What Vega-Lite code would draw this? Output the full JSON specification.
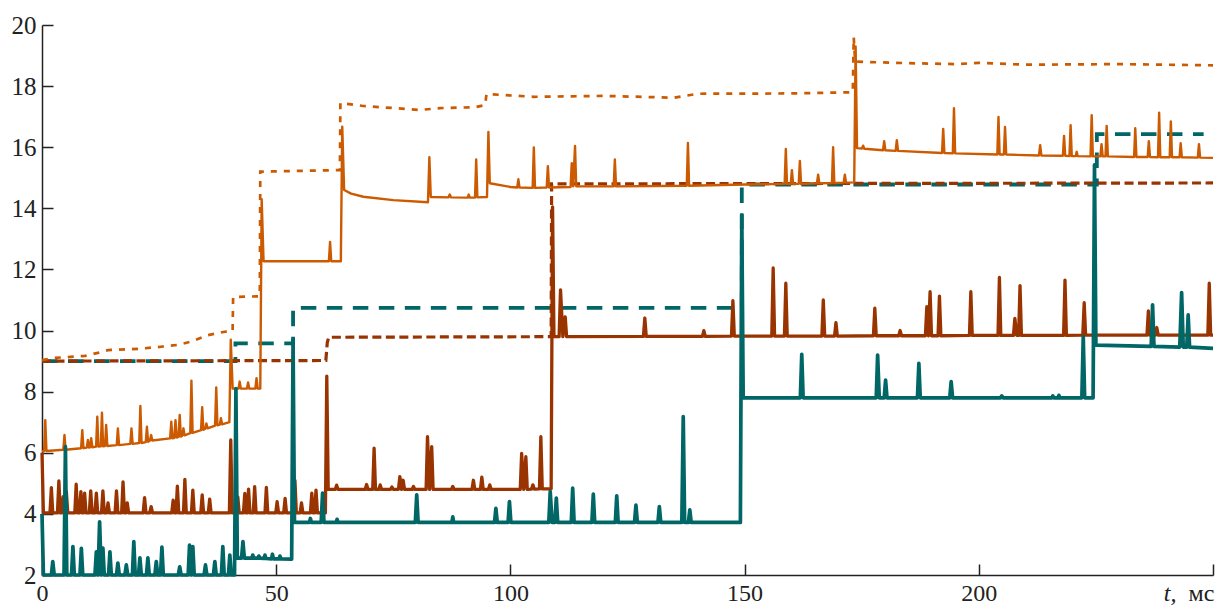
{
"$schema": "https://vega.github.io/schema/vega-lite/v6.json",
"width": 1171, "height": 550,
"padding": {"left": 6, "top": 13, "right": 8, "bottom": 0},
"autosize": {"type": "pad"},
"background": "white",
"config": {"view": {"stroke": null}},
"datasets": {
"teaD": [{"t":0,"v":9.0},{"t":41.3,"v":9.0},{"t":41.3,"v":9.58},{"t":53.6,"v":9.58},{"t":53.6,"v":10.74},{"t":149.4,"v":10.74},{"t":149.4,"v":14.78},{"t":225.2,"v":14.78},{"t":225.2,"v":16.43},{"t":248,"v":16.43}],
"broD": [{"t":0,"v":9.0},{"t":60.6,"v":9.02},{"t":60.9,"v":9.6},{"t":61.2,"v":9.78},{"t":108.7,"v":9.8},{"t":108.8,"v":14.8},{"t":250,"v":14.83}],
"oraD": [{"t":0,"v":9.03},{"t":2.3,"v":9.1},{"t":9.2,"v":9.17},{"t":11.9,"v":9.27},{"t":14.1,"v":9.36},{"t":20.5,"v":9.4},{"t":25.4,"v":9.47},{"t":29,"v":9.53},{"t":31.9,"v":9.64},{"t":35.4,"v":9.85},{"t":39,"v":9.96},{"t":40.7,"v":9.98},{"t":40.8,"v":11.1},{"t":46.5,"v":11.12},{"t":46.6,"v":15.2},{"t":63.6,"v":15.25},{"t":63.7,"v":17.45},{"t":68.6,"v":17.35},{"t":80.7,"v":17.22},{"t":85,"v":17.28},{"t":92.4,"v":17.31},{"t":94.6,"v":17.38},{"t":94.9,"v":17.74},{"t":105,"v":17.65},{"t":120,"v":17.68},{"t":135,"v":17.62},{"t":140,"v":17.75},{"t":160,"v":17.76},{"t":173.1,"v":17.8},{"t":173.3,"v":19.6},{"t":173.6,"v":18.8},{"t":185,"v":18.75},{"t":195,"v":18.72},{"t":200,"v":18.76},{"t":210,"v":18.7},{"t":230,"v":18.72},{"t":250,"v":18.68}],
"ora": [{"t":0,"v":6.05},
{"t":0.45,"v":6.06},{"t":0.7,"v":7.07},{"t":0.95,"v":6.06},
{"t":4.55,"v":6.1},{"t":4.8,"v":6.58},{"t":5.05,"v":6.1},
{"t":8.35,"v":6.15},{"t":8.6,"v":6.74},{"t":8.85,"v":6.15},
{"t":9.55,"v":6.17},{"t":9.8,"v":6.42},{"t":10.05,"v":6.17},
{"t":10.25,"v":6.18},{"t":10.5,"v":6.48},{"t":10.75,"v":6.18},
{"t":11.55,"v":6.2},{"t":11.8,"v":7.18},{"t":12.05,"v":6.2},
{"t":12.55,"v":6.21},{"t":12.8,"v":7.31},{"t":13.05,"v":6.21},
{"t":13.45,"v":6.22},{"t":13.7,"v":6.91},{"t":13.95,"v":6.22},
{"t":15.95,"v":6.25},{"t":16.2,"v":6.8},{"t":16.45,"v":6.25},
{"t":18.85,"v":6.29},{"t":19.1,"v":6.8},{"t":19.35,"v":6.29},
{"t":20.75,"v":6.32},{"t":21.0,"v":7.53},{"t":21.25,"v":6.32},
{"t":22.15,"v":6.35},{"t":22.4,"v":6.85},{"t":22.65,"v":6.36},
{"t":23.05,"v":6.4},{"t":23.3,"v":6.58},{"t":23.55,"v":6.4},
{"t":27.35,"v":6.47},{"t":27.6,"v":7.02},{"t":27.85,"v":6.47},
{"t":28.25,"v":6.49},{"t":28.5,"v":7.07},{"t":28.75,"v":6.5},
{"t":29.15,"v":6.52},{"t":29.4,"v":7.24},{"t":29.65,"v":6.53},
{"t":29.95,"v":6.56},{"t":30.2,"v":6.8},{"t":30.45,"v":6.57},
{"t":31.65,"v":6.64},{"t":31.9,"v":8.36},{"t":32.15,"v":6.65},
{"t":33.95,"v":6.74},{"t":34.2,"v":7.49},{"t":34.45,"v":6.75},
{"t":34.85,"v":6.79},{"t":35.1,"v":6.96},{"t":35.35,"v":6.8},
{"t":36.95,"v":6.89},{"t":37.2,"v":8.14},{"t":37.45,"v":6.9},
{"t":37.95,"v":6.92},{"t":38.2,"v":7.13},{"t":38.45,"v":6.93},
{"t":40.0,"v":7.0},{"t":40.3,"v":9.7},{"t":40.7,"v":8.1},
{"t":41.95,"v":8.1},{"t":42.2,"v":8.33},{"t":42.45,"v":8.1},
{"t":43.75,"v":8.1},{"t":44.0,"v":8.3},{"t":44.25,"v":8.1},
{"t":45.55,"v":8.1},{"t":45.8,"v":8.44},{"t":46.05,"v":8.1},
{"t":46.6,"v":8.1},{"t":46.9,"v":14.3},{"t":47.3,"v":12.27},
{"t":61.25,"v":12.27},{"t":61.5,"v":12.9},{"t":61.75,"v":12.27},
{"t":63.8,"v":12.27},{"t":64.1,"v":16.67},{"t":64.5,"v":14.6},
{"t":66,"v":14.48},{"t":68.6,"v":14.38},{"t":75,"v":14.27},
{"t":82.4,"v":14.2},{"t":82.7,"v":15.67},{"t":83.0,"v":14.37},
{"t":86.8,"v":14.36},{"t":87.05,"v":14.45},{"t":87.3,"v":14.36},
{"t":90.9,"v":14.35},{"t":91.1,"v":14.45},{"t":91.35,"v":14.35},
{"t":92.45,"v":14.35},{"t":92.7,"v":15.6},{"t":92.95,"v":14.36},
{"t":95.0,"v":14.37},{"t":95.3,"v":16.5},{"t":95.6,"v":14.82},
{"t":100,"v":14.7},
{"t":101.45,"v":14.68},{"t":101.7,"v":14.95},{"t":101.95,"v":14.68},
{"t":104.75,"v":14.67},{"t":105,"v":15.99},{"t":105.25,"v":14.67},
{"t":107.75,"v":14.68},{"t":108,"v":15.38},{"t":108.25,"v":14.68},
{"t":112.85,"v":14.7},{"t":113.1,"v":15.48},{"t":113.4,"v":14.72},{"t":113.8,"v":16.04},{"t":114.05,"v":14.72},
{"t":122.05,"v":14.72},{"t":122.3,"v":15.6},{"t":122.55,"v":14.72},
{"t":137.65,"v":14.74},{"t":137.9,"v":16.14},{"t":138.15,"v":14.74},
{"t":150,"v":14.78},
{"t":158.55,"v":14.8},{"t":158.8,"v":15.94},{"t":159.05,"v":14.8},
{"t":159.85,"v":14.8},{"t":160.1,"v":15.25},{"t":160.35,"v":14.8},
{"t":161.55,"v":14.8},{"t":161.8,"v":15.55},{"t":162.05,"v":14.8},
{"t":165.45,"v":14.82},{"t":165.7,"v":15.1},{"t":165.95,"v":14.82},
{"t":168.65,"v":14.83},{"t":168.9,"v":16.0},{"t":169.15,"v":14.83},
{"t":171.15,"v":14.84},{"t":171.4,"v":15.1},{"t":171.65,"v":14.84},
{"t":173.4,"v":14.85},{"t":173.7,"v":19.3},{"t":174.0,"v":15.97},
{"t":175.05,"v":15.96},{"t":175.3,"v":16.05},{"t":175.55,"v":15.95},
{"t":179.55,"v":15.9},{"t":179.8,"v":16.2},{"t":180.05,"v":15.9},
{"t":182.25,"v":15.88},{"t":182.5,"v":16.23},{"t":182.75,"v":15.88},
{"t":192.15,"v":15.81},{"t":192.4,"v":16.6},{"t":192.65,"v":15.81},
{"t":194.45,"v":15.8},{"t":194.7,"v":17.28},{"t":194.95,"v":15.8},
{"t":203.95,"v":15.76},{"t":204.2,"v":16.99},{"t":204.45,"v":15.76},
{"t":205.35,"v":15.76},{"t":205.6,"v":16.66},{"t":205.85,"v":15.76},
{"t":212.85,"v":15.73},{"t":213.1,"v":16.07},{"t":213.35,"v":15.73},
{"t":217.95,"v":15.72},{"t":218.2,"v":16.37},{"t":218.45,"v":15.72},
{"t":219.35,"v":15.71},{"t":219.6,"v":16.72},{"t":219.85,"v":15.71},
{"t":220.7,"v":15.71},{"t":220.9,"v":15.85},{"t":221.1,"v":15.71},
{"t":223.85,"v":15.7},{"t":224.1,"v":17.05},{"t":224.35,"v":15.7},
{"t":225.95,"v":15.7},{"t":226.2,"v":16.1},{"t":226.45,"v":15.7},
{"t":227.05,"v":15.7},{"t":227.3,"v":16.7},{"t":227.55,"v":15.7},
{"t":233.15,"v":15.68},{"t":233.4,"v":16.62},{"t":233.65,"v":15.68},
{"t":236.05,"v":15.68},{"t":236.3,"v":16.2},{"t":236.55,"v":15.68},
{"t":238.25,"v":15.67},{"t":238.5,"v":17.13},{"t":238.75,"v":15.67},
{"t":240.75,"v":15.67},{"t":241.0,"v":16.84},{"t":241.25,"v":15.67},
{"t":242.85,"v":15.67},{"t":243.1,"v":16.13},{"t":243.35,"v":15.67},
{"t":246.75,"v":15.66},{"t":247.0,"v":16.1},{"t":247.25,"v":15.66},
{"t":250,"v":15.65}],
"bro": [{"t":0,"v":6.0},{"t":0.3,"v":4.03},
{"t":1.7,"v":4.03},{"t":2.0,"v":4.86},{"t":2.3,"v":4.03},
{"t":3.3,"v":4.03},{"t":3.6,"v":5.08},{"t":3.9,"v":4.03},
{"t":4.2,"v":4.03},{"t":4.5,"v":4.56},{"t":4.85,"v":4.03},{"t":5.2,"v":4.73},{"t":5.5,"v":4.03},
{"t":7.0,"v":4.03},{"t":7.3,"v":4.97},{"t":7.6,"v":4.03},
{"t":8.0,"v":4.03},{"t":8.3,"v":4.73},{"t":8.6,"v":4.03},
{"t":8.8,"v":4.03},{"t":9.1,"v":4.68},{"t":9.4,"v":4.03},
{"t":10.1,"v":4.03},{"t":10.4,"v":4.75},{"t":10.7,"v":4.03},
{"t":11.3,"v":4.03},{"t":11.6,"v":4.68},{"t":11.9,"v":4.03},
{"t":12.7,"v":4.03},{"t":13.0,"v":4.75},{"t":13.3,"v":4.03},
{"t":13.8,"v":4.03},{"t":14.1,"v":4.36},{"t":14.4,"v":4.03},
{"t":15.6,"v":4.03},{"t":15.9,"v":4.75},{"t":16.2,"v":4.03},
{"t":17.0,"v":4.03},{"t":17.3,"v":5.05},{"t":17.6,"v":4.03},
{"t":17.9,"v":4.03},{"t":18.2,"v":4.36},{"t":18.5,"v":4.03},
{"t":21.6,"v":4.03},{"t":21.9,"v":4.53},{"t":22.2,"v":4.03},
{"t":23.0,"v":4.03},{"t":23.3,"v":4.24},{"t":23.6,"v":4.03},
{"t":27.7,"v":4.03},{"t":28.0,"v":4.45},{"t":28.3,"v":4.03},
{"t":28.6,"v":4.03},{"t":28.9,"v":4.91},{"t":29.2,"v":4.03},
{"t":30.2,"v":4.03},{"t":30.5,"v":5.13},{"t":30.8,"v":4.03},
{"t":31.9,"v":4.03},{"t":32.2,"v":4.78},{"t":32.5,"v":4.03},
{"t":33.9,"v":4.03},{"t":34.2,"v":4.62},{"t":34.5,"v":4.03},
{"t":35.5,"v":4.03},{"t":35.8,"v":4.48},{"t":36.1,"v":4.03},
{"t":40.0,"v":4.03},{"t":40.3,"v":6.42},{"t":40.6,"v":4.03},
{"t":41.5,"v":4.03},{"t":41.8,"v":4.56},{"t":42.1,"v":4.03},
{"t":43.0,"v":4.03},{"t":43.3,"v":4.67},{"t":43.6,"v":4.03},
{"t":43.8,"v":4.03},{"t":44.1,"v":4.81},{"t":44.4,"v":4.03},
{"t":45.1,"v":4.03},{"t":45.4,"v":4.89},{"t":45.7,"v":4.03},
{"t":47.6,"v":4.03},{"t":47.9,"v":4.87},{"t":48.2,"v":4.03},
{"t":49.9,"v":4.03},{"t":50.2,"v":4.4},{"t":50.5,"v":4.03},
{"t":51.6,"v":4.03},{"t":51.9,"v":4.51},{"t":52.2,"v":4.03},
{"t":53.7,"v":4.03},{"t":54.0,"v":5.1},{"t":54.3,"v":4.03},
{"t":55.1,"v":4.03},{"t":55.4,"v":4.36},{"t":55.7,"v":4.03},
{"t":57.3,"v":4.03},{"t":57.6,"v":4.68},{"t":57.9,"v":4.03},
{"t":58.2,"v":4.03},{"t":58.5,"v":4.78},{"t":58.8,"v":4.03},
{"t":60.5,"v":4.03},{"t":60.8,"v":8.51},{"t":61.1,"v":4.8},
{"t":62.6,"v":4.8},{"t":62.9,"v":4.94},{"t":63.2,"v":4.8},
{"t":69.0,"v":4.8},{"t":69.3,"v":4.96},{"t":69.6,"v":4.8},
{"t":70.6,"v":4.8},{"t":70.9,"v":6.15},{"t":71.2,"v":4.8},
{"t":71.9,"v":4.8},{"t":72.2,"v":4.95},{"t":72.5,"v":4.8},
{"t":74.4,"v":4.8},{"t":74.7,"v":4.88},{"t":75.0,"v":4.8},
{"t":76.1,"v":4.8},{"t":76.4,"v":5.22},{"t":76.75,"v":4.8},{"t":77.1,"v":5.1},{"t":77.4,"v":4.8},
{"t":79.0,"v":4.8},{"t":79.3,"v":4.9},{"t":79.6,"v":4.8},
{"t":82.0,"v":4.8},{"t":82.3,"v":6.53},{"t":82.75,"v":4.8},{"t":83.2,"v":6.2},{"t":83.5,"v":4.8},
{"t":87.4,"v":4.8},{"t":87.7,"v":4.9},{"t":88.0,"v":4.8},
{"t":91.8,"v":4.8},{"t":92.1,"v":5.1},{"t":92.4,"v":4.8},
{"t":93.6,"v":4.8},{"t":93.9,"v":5.2},{"t":94.2,"v":4.8},
{"t":95.3,"v":4.8},{"t":95.6,"v":4.95},{"t":95.9,"v":4.8},
{"t":102.1,"v":4.8},{"t":102.4,"v":5.98},{"t":102.85,"v":4.8},{"t":103.3,"v":5.87},{"t":103.6,"v":4.8},
{"t":104.5,"v":4.81},{"t":104.8,"v":4.95},{"t":105.1,"v":4.81},
{"t":106.2,"v":4.82},{"t":106.5,"v":6.53},{"t":106.8,"v":4.82},
{"t":108.7,"v":4.82},{"t":109.0,"v":14.05},{"t":109.3,"v":9.8},
{"t":110.4,"v":9.8},{"t":110.7,"v":11.33},{"t":111.2,"v":9.8},{"t":111.7,"v":10.45},{"t":112.0,"v":9.8},
{"t":128.4,"v":9.81},{"t":128.7,"v":10.41},{"t":129.0,"v":9.81},
{"t":141.0,"v":9.81},{"t":141.3,"v":10.0},{"t":141.6,"v":9.81},
{"t":147.2,"v":9.82},{"t":147.5,"v":10.98},{"t":147.8,"v":9.82},
{"t":155.8,"v":9.82},{"t":156.1,"v":12.05},{"t":156.4,"v":9.82},
{"t":158.5,"v":9.82},{"t":158.8,"v":11.55},{"t":159.1,"v":9.82},
{"t":166.5,"v":9.82},{"t":166.8,"v":11.0},{"t":167.1,"v":9.82},
{"t":169.2,"v":9.82},{"t":169.5,"v":10.26},{"t":169.8,"v":9.82},
{"t":177.5,"v":9.83},{"t":177.8,"v":10.73},{"t":178.1,"v":9.83},
{"t":182.9,"v":9.83},{"t":183.2,"v":10.0},{"t":183.5,"v":9.83},
{"t":188.6,"v":9.83},{"t":188.9,"v":10.78},{"t":189.25,"v":9.83},{"t":189.6,"v":11.27},{"t":189.9,"v":9.83},
{"t":191.3,"v":9.83},{"t":191.6,"v":11.13},{"t":191.9,"v":9.83},
{"t":198.0,"v":9.84},{"t":198.3,"v":11.27},{"t":198.6,"v":9.84},
{"t":204.1,"v":9.84},{"t":204.4,"v":11.74},{"t":204.7,"v":9.84},
{"t":207.4,"v":9.84},{"t":207.7,"v":10.4},{"t":208.1,"v":9.84},{"t":208.5,"v":9.84},{"t":208.8,"v":11.47},{"t":209.1,"v":9.84},
{"t":218.1,"v":9.84},{"t":218.4,"v":11.65},{"t":218.7,"v":9.84},
{"t":222.2,"v":9.85},{"t":222.5,"v":10.91},{"t":222.8,"v":9.85},
{"t":235.9,"v":9.85},{"t":236.2,"v":10.64},{"t":236.5,"v":9.85},
{"t":237.7,"v":9.85},{"t":238.0,"v":10.1},{"t":238.3,"v":9.85},
{"t":248.9,"v":9.85},{"t":249.2,"v":11.55},{"t":249.5,"v":9.85},
{"t":250,"v":9.85}],
"tea": [{"t":0,"v":4.0},{"t":0.3,"v":2.0},
{"t":2.0,"v":2.0},{"t":2.3,"v":2.44},{"t":2.6,"v":2.0},
{"t":4.7,"v":2.0},{"t":5.0,"v":6.2},{"t":5.3,"v":2.0},
{"t":6.3,"v":2.0},{"t":6.6,"v":2.93},{"t":6.9,"v":2.0},
{"t":8.1,"v":2.0},{"t":8.4,"v":2.87},{"t":8.7,"v":2.0},
{"t":11.3,"v":2.0},{"t":11.6,"v":2.76},{"t":11.95,"v":2.0},{"t":12.3,"v":3.74},{"t":12.65,"v":2.0},{"t":13.0,"v":2.88},{"t":13.3,"v":2.0},
{"t":14.2,"v":2.0},{"t":14.5,"v":2.76},{"t":14.8,"v":2.0},
{"t":15.9,"v":2.0},{"t":16.2,"v":2.39},{"t":16.5,"v":2.0},
{"t":17.7,"v":2.0},{"t":18.0,"v":2.33},{"t":18.3,"v":2.0},
{"t":19.3,"v":2.0},{"t":19.6,"v":3.09},{"t":19.9,"v":2.0},
{"t":20.6,"v":2.0},{"t":20.9,"v":2.56},{"t":21.2,"v":2.0},
{"t":22.3,"v":2.0},{"t":22.6,"v":2.56},{"t":22.9,"v":2.0},
{"t":24.1,"v":2.0},{"t":24.4,"v":2.44},{"t":24.7,"v":2.0},
{"t":25.3,"v":2.0},{"t":25.6,"v":2.91},{"t":25.9,"v":2.0},
{"t":29.1,"v":2.0},{"t":29.4,"v":2.27},{"t":29.7,"v":2.0},
{"t":31.2,"v":2.0},{"t":31.5,"v":2.98},{"t":31.85,"v":2.0},{"t":32.2,"v":2.93},{"t":32.5,"v":2.0},
{"t":34.6,"v":2.0},{"t":34.9,"v":2.33},{"t":35.2,"v":2.0},
{"t":36.6,"v":2.0},{"t":36.9,"v":2.44},{"t":37.2,"v":2.0},
{"t":38.3,"v":2.0},{"t":38.6,"v":2.93},{"t":38.9,"v":2.0},
{"t":39.8,"v":2.0},{"t":40.1,"v":2.65},{"t":40.4,"v":2.0},
{"t":41.1,"v":2.0},{"t":41.4,"v":8.1},{"t":41.7,"v":2.55},
{"t":42.6,"v":2.55},{"t":42.9,"v":3.09},{"t":43.2,"v":2.55},
{"t":44.8,"v":2.55},{"t":45.0,"v":2.65},{"t":45.2,"v":2.55},
{"t":46.1,"v":2.55},{"t":46.3,"v":2.62},{"t":46.5,"v":2.55},
{"t":47.4,"v":2.54},{"t":47.6,"v":2.65},{"t":47.8,"v":2.54},
{"t":49.0,"v":2.53},{"t":49.2,"v":2.68},{"t":49.4,"v":2.53},
{"t":50.6,"v":2.53},{"t":50.8,"v":2.62},{"t":51.0,"v":2.53},
{"t":53.3,"v":2.52},{"t":53.6,"v":9.69},{"t":53.9,"v":3.72},
{"t":57.1,"v":3.72},{"t":57.3,"v":3.85},{"t":57.5,"v":3.72},
{"t":59.6,"v":3.72},{"t":59.9,"v":4.68},{"t":60.2,"v":3.72},
{"t":62.8,"v":3.72},{"t":63.0,"v":3.82},{"t":63.2,"v":3.72},
{"t":79.7,"v":3.72},{"t":80.0,"v":4.62},{"t":80.3,"v":3.72},
{"t":87.5,"v":3.72},{"t":87.7,"v":3.9},{"t":87.9,"v":3.72},
{"t":96.6,"v":3.72},{"t":96.9,"v":4.18},{"t":97.2,"v":3.72},
{"t":99.5,"v":3.72},{"t":99.8,"v":4.4},{"t":100.1,"v":3.72},
{"t":108.2,"v":3.72},{"t":108.5,"v":4.73},{"t":108.9,"v":3.72},{"t":109.5,"v":3.72},{"t":109.8,"v":4.52},{"t":110.1,"v":3.72},
{"t":113.0,"v":3.72},{"t":113.3,"v":4.84},{"t":113.6,"v":3.72},
{"t":117.4,"v":3.72},{"t":117.7,"v":4.65},{"t":118.0,"v":3.72},
{"t":122.4,"v":3.72},{"t":122.7,"v":4.59},{"t":123.0,"v":3.72},
{"t":126.5,"v":3.72},{"t":126.8,"v":4.29},{"t":127.1,"v":3.72},
{"t":131.5,"v":3.72},{"t":131.8,"v":4.24},{"t":132.1,"v":3.72},
{"t":136.6,"v":3.72},{"t":136.9,"v":7.18},{"t":137.2,"v":3.72},
{"t":138.0,"v":3.72},{"t":138.3,"v":4.13},{"t":138.6,"v":3.72},
{"t":149.1,"v":3.72},{"t":149.4,"v":13.78},{"t":149.7,"v":7.8},
{"t":161.9,"v":7.8},{"t":162.2,"v":9.22},{"t":162.5,"v":7.8},
{"t":178.1,"v":7.8},{"t":178.4,"v":9.2},{"t":178.75,"v":7.8},{"t":179.8,"v":7.8},{"t":180.1,"v":8.38},{"t":180.4,"v":7.8},
{"t":186.9,"v":7.8},{"t":187.2,"v":8.93},{"t":187.5,"v":7.8},
{"t":193.8,"v":7.8},{"t":194.1,"v":8.33},{"t":194.4,"v":7.8},
{"t":204.6,"v":7.8},{"t":204.9,"v":7.86},{"t":205.2,"v":7.8},
{"t":215.6,"v":7.8},{"t":215.8,"v":7.86},{"t":216.0,"v":7.8},
{"t":216.9,"v":7.8},{"t":217.1,"v":7.88},{"t":217.3,"v":7.8},
{"t":222.0,"v":7.8},{"t":222.3,"v":9.8},{"t":222.6,"v":7.8},
{"t":224.4,"v":7.8},{"t":224.7,"v":15.42},{"t":225.0,"v":9.52},
{"t":236.8,"v":9.48},{"t":237.1,"v":10.84},{"t":237.4,"v":9.48},
{"t":242.9,"v":9.46},{"t":243.3,"v":11.24},{"t":243.65,"v":9.46},
{"t":244.4,"v":9.46},{"t":244.7,"v":10.51},{"t":245.0,"v":9.46},
{"t":250,"v":9.42}]
},
"encoding": {
"x": {"field": "t", "type": "quantitative", "scale": {"domain": [0, 250], "nice": false, "zero": false},
 "axis": {"values": [0, 50, 100, 150, 200, 250], "grid": false,
  "title": "t,", "titleFontStyle": "italic", "titleFont": "Liberation Serif", "titleFontSize": 24, "titleFontWeight": "normal", "titleColor": "#222222",
  "titleX": 1134, "titleY": 6, "titleAlign": "right", "titleBaseline": "top",
  "labelExpr": "datum.value == 250 ? 'мс' : datum.label",
  "labelOffset": {"condition": {"test": "datum.value == 250", "value": -12}, "value": 0},
  "labelFlush": false, "labelOverlap": false, "labelPadding": 17, "tickSize": -11,
  "domainColor": "#222222", "tickColor": "#222222", "domainWidth": 1.5, "tickWidth": 1.5,
  "labelFont": "Liberation Serif", "labelFontSize": 24, "labelColor": "#222222"}},
"y": {"field": "v", "type": "quantitative", "scale": {"domain": [2, 20], "nice": false, "zero": false},
 "axis": {"values": [2, 4, 6, 8, 10, 12, 14, 16, 18, 20], "grid": false, "title": null,
  "labelPadding": 17, "tickSize": -11, "minExtent": 36, "maxExtent": 36, "labelOverlap": false,
  "domainColor": "#222222", "tickColor": "#222222", "domainWidth": 1.5, "tickWidth": 1.5,
  "labelFont": "Liberation Serif", "labelFontSize": 25, "labelColor": "#222222"}},
"order": {"value": null}
},
"layer": [
{"data": {"name": "teaD"}, "mark": {"type": "line", "color": "#006666", "strokeWidth": 3.8, "strokeDash": [15.5, 10.5]}},
{"data": {"name": "broD"}, "mark": {"type": "line", "color": "#993300", "strokeWidth": 3.2, "strokeDash": [9, 4.5]}},
{"data": {"name": "oraD"}, "mark": {"type": "line", "color": "#CC5A00", "strokeWidth": 2.7, "strokeDash": [6, 7]}},
{"data": {"name": "bro"}, "mark": {"type": "line", "color": "#993300", "strokeWidth": 3.3, "strokeJoin": "round"}},
{"data": {"name": "ora"}, "mark": {"type": "line", "color": "#CC5A00", "strokeWidth": 2.4, "strokeJoin": "round"}},
{"data": {"name": "tea"}, "mark": {"type": "line", "color": "#006666", "strokeWidth": 3.7, "strokeJoin": "round"}}
]
}
